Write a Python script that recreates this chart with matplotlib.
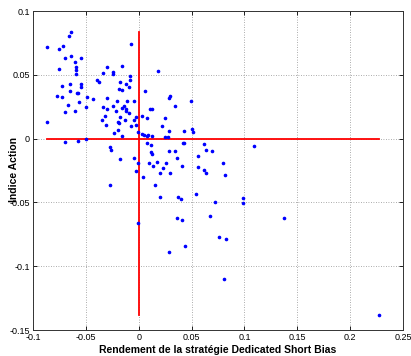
import matplotlib
matplotlib.use("Agg")
import matplotlib.pyplot as plt
import numpy as np
from matplotlib.ticker import FuncFormatter

# Monthly returns: Dedicated Short Bias strategy vs equity index
short_bias = [
    -0.0870, -0.0638, -0.0662, -0.0716, -0.0754, -0.0073, -0.0638, -0.0694, -0.0546, -0.0600,
    -0.0596, -0.0757, -0.0593, -0.0297, -0.0161, -0.0335, -0.0246, -0.0240, -0.0596, -0.0085,
    0.0183, -0.0079, -0.0397, -0.0376, -0.0546, -0.0177, -0.0653, -0.0728, -0.0123, -0.0095,
    -0.0549, -0.0186, -0.0161, -0.0647, 0.0062, -0.0584, -0.0577, -0.0776, -0.0723, -0.0489,
    -0.0303, -0.0430, 0.0290, 0.0299, -0.0202, -0.0108, -0.0042, -0.0568, -0.0666, -0.0240,
    -0.0139, -0.0117, -0.0501, -0.0338, -0.0155, -0.0297, 0.0107, 0.0126, -0.0700, -0.0605,
    -0.0212, -0.0120, -0.0089, -0.0316, -0.0177, -0.0023, 0.0034, -0.0347, -0.0127, 0.0081,
    0.0249, -0.0193, -0.0184, -0.0044, -0.0870, -0.0307, -0.0073, -0.0023, 0.0220, -0.0191,
    -0.0231, -0.0002, 0.0036, 0.0047, 0.0074, 0.0085, 0.0123, -0.0161, 0.0290, 0.0252,
    0.0274, 0.0431, 0.0504, 0.0517, 0.0492, 0.0341,
    -0.0694, -0.0571, -0.0501, 0.0081, 0.0119, -0.0274, -0.0259, 0.0116, 0.0129, 0.0290,
    0.0346, -0.0044, -0.0177, -0.0004, 0.0100, 0.0176, 0.0132, 0.0261, 0.0227, -0.0023,
    0.0197, 0.0038, -0.0274, 0.0157, 0.0204, -0.0011, 0.0290, 0.0418, 0.0427, 0.0615,
    0.1091, 0.0637, 0.0693, 0.0558, 0.0360, 0.0412, 0.0800, 0.0558, 0.0615, 0.0637,
    0.0299, 0.0814, 0.0539, 0.0375, 0.0397, 0.0722, 0.0984, 0.0990, 0.0365, 0.0412,
    0.0675, 0.1375, 0.0760, 0.0829, 0.0435, 0.0810, 0.2273,
]
equity_index = [
    0.0718, 0.0833, 0.0807, 0.0726, 0.0699, 0.0744, 0.0647, 0.0634, 0.0628, 0.0597,
    0.0563, 0.0545, 0.0540, 0.0563, 0.0569, 0.0516, 0.0522, 0.0506, 0.0503, 0.0493,
    0.0529, 0.0459, 0.0456, 0.0440, 0.0432, 0.0443, 0.0427, 0.0412, 0.0427, 0.0404,
    0.0404, 0.0388, 0.0380, 0.0375, 0.0371, 0.0361, 0.0359, 0.0335, 0.0330, 0.0330,
    0.0322, 0.0310, 0.0322, 0.0333, 0.0291, 0.0294, 0.0294, 0.0286, 0.0265, 0.0257,
    0.0257, 0.0236, 0.0251, 0.0247, 0.0241, 0.0231, 0.0233, 0.0233, 0.0210, 0.0215,
    0.0218, 0.0215, 0.0200, 0.0181, 0.0173, 0.0173, 0.0181, 0.0149, 0.0147, 0.0163,
    0.0160, 0.0129, 0.0121, 0.0145, 0.0129, 0.0110, 0.0097, 0.0104, 0.0097, 0.0068,
    0.0047, 0.0049, 0.0037, 0.0031, 0.0021, 0.0027, 0.0021, 0.0019, 0.0058, 0.0013,
    0.0016, 0.0058, 0.0074, 0.0053, 0.0296, 0.0255,
    -0.0028, -0.0018, -0.0005, -0.0036, -0.0052, -0.0063, -0.0089, -0.0104, -0.0120, -0.0097,
    -0.0097, -0.0154, -0.0159, -0.0191, -0.0193, -0.0183, -0.0212, -0.0193, -0.0230, -0.0254,
    -0.0267, -0.0303, -0.0361, -0.0361, -0.0456, -0.0660, -0.0892, -0.0036, -0.0036, -0.0044,
    -0.0055, -0.0091, -0.0097, -0.0138, -0.0152, -0.0212, -0.0193, -0.0225, -0.0246, -0.0267,
    -0.0267, -0.0288, -0.0432, -0.0460, -0.0476, -0.0500, -0.0466, -0.0503, -0.0623, -0.0641,
    -0.0610, -0.0623, -0.0772, -0.0786, -0.0843, -0.1104, -0.1385,
]

x_ticks = [-0.1, -0.05, 0, 0.05, 0.1, 0.15, 0.2, 0.25]
y_ticks = [-0.15, -0.1, -0.05, 0, 0.05, 0.1]

plt.rcParams['font.family'] = ['Liberation Sans', 'DejaVu Sans']

fig = plt.figure(figsize=(4.11, 3.56), dpi=100)
ax = fig.add_axes([0.080, 0.073, 0.901, 0.896])

x = np.array(short_bias)
y = np.array(equity_index)

# Axes cross through the origin spanning the data range
ax.plot([x.min(), x.max()], [0, 0], color='red', lw=1.3, zorder=2)
ax.plot([0, 0], [y.min(), y.max()], color='red', lw=1.3, zorder=2)

ax.plot(x, y, linestyle='none', marker='.', markersize=3.2, color='blue', zorder=3)

ax.set_xlim(-0.1, 0.25)
ax.set_ylim(-0.15, 0.1)
ax.set_xticks(x_ticks)
ax.set_yticks(y_ticks)
fmt = FuncFormatter(lambda v, p: ('%g' % v))
ax.xaxis.set_major_formatter(fmt)
ax.yaxis.set_major_formatter(fmt)
ax.tick_params(direction='in', length=3, labelsize=6.5, width=0.6, top=True, right=True,
               pad=2)
ax.grid(True, linestyle=(0, (1, 2)), color='#909090', linewidth=0.6)
for s in ax.spines.values():
    s.set_linewidth(0.7)
    s.set_color('#333333')

ax.set_xlabel('Rendement de la stratégie Dedicated Short Bias', fontsize=7.5,
              fontweight='bold', labelpad=2)
fig.text(14 / 411, 1 - 170 / 356, 'Indice Action', rotation=90, ha='center', va='center',
         fontsize=7.5, fontweight='bold')

fig.savefig('out.png', dpi=100)
